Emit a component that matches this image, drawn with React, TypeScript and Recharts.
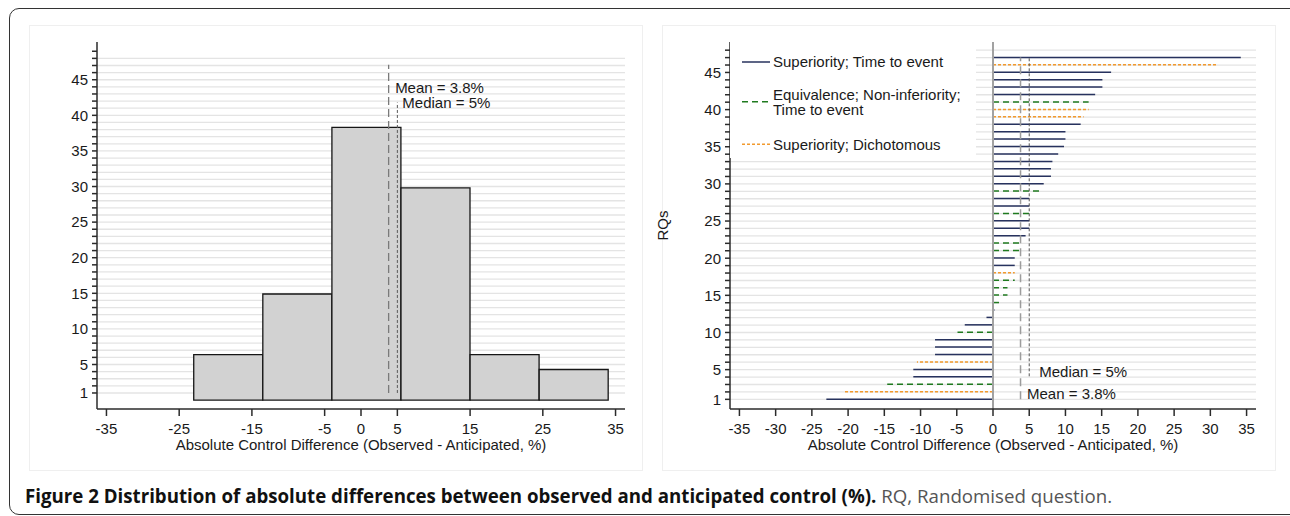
import React from "react";
import {
  BarChart,
  Bar,
  XAxis,
  YAxis,
  CartesianGrid,
  ReferenceLine,
  Legend,
} from "recharts";

// histogram: bin centres (bin width 9.5) and % of RQs
const binMids = [-18.25, -8.75, 0.75, 10.25, 19.75, 29.25];
const binPercent = [6.4, 14.9, 38.3, 29.8, 6.4, 4.3];

// per randomised question (RQ 1..47), sorted by difference
const rqDiff = [
  -23, -20.7, -14.6, -11, -11, -10.5, -8, -8, -8, -4.9, -3.9, -0.9, 0.2, 1, 2,
  2, 3, 3, 3, 3, 4, 4, 4.5, 5, 5, 5, 5, 5, 6.5, 7, 8, 8, 8.2, 9, 9.8, 10, 10,
  12.1, 12.5, 13.2, 13.2, 14.1, 15.1, 15.1, 16.3, 31, 34.2,
];
const rqDesign = [
  "sup", "dich", "eq", "sup", "sup", "dich", "sup", "sup", "sup", "eq", "sup",
  "sup", "sup", "eq", "eq", "eq", "eq", "dich", "sup", "sup", "eq", "eq", "sup",
  "sup", "sup", "eq", "sup", "sup", "eq", "sup", "sup", "sup", "sup", "sup",
  "sup", "sup", "sup", "sup", "dich", "dich", "eq", "sup", "sup", "sup", "sup",
  "dich", "sup",
];

const meanDiff = 3.8;
const medianDiff = 5;

const leftXTicks = [-35, -25, -15, -5, 0, 5, 15, 25, 35];
const rightXTicks = [-35, -30, -25, -20, -15, -10, -5, 0, 5, 10, 15, 20, 25, 30, 35];
const yLabelTicks = [1, 5, 10, 15, 20, 25, 30, 35, 40, 45];

const legendItems = [
  { key: "sup", lines: ["Superiority; Time to event"] },
  { key: "eq", lines: ["Equivalence; Non-inferiority;", "Time to event"] },
  { key: "dich", lines: ["Superiority; Dichotomous"] },
];

const histData = binMids.map((mid, i) => ({ mid, pct: binPercent[i] }));
const rqData = rqDiff.map((diff, i) => ({ rq: i + 1, diff, design: rqDesign[i] }));

const leftYTickMarks = Array.from({ length: 49 }, (_, i) => i + 1);
const rightYTickMarks = Array.from({ length: 48 }, (_, i) => i + 1);
const gridRows = Array.from({ length: 48 }, (_, i) => i + 1);

const FONT = "'Liberation Sans', Arial, Helvetica, sans-serif";
const INK = "#1a1a1a";
const AXIS = "#2b2b2b";

const designStyle: Record<string, { stroke: string; dash?: string }> = {
  sup: { stroke: "#27325e" },
  eq: { stroke: "#1f7a1f", dash: "6 4" },
  dich: { stroke: "#f29a2e", dash: "3 2" },
};

const yTickFmt = (v: number) => (yLabelTicks.includes(v) ? String(v) : "");

function RqSegment(props: any) {
  const { x, y, width, height, payload } = props;
  if (!isFinite(x) || !isFinite(width)) return null;
  const s = designStyle[payload.design];
  const cy = y + height / 2;
  return (
    <line
      x1={x}
      x2={x + width}
      y1={cy}
      y2={cy}
      stroke={s.stroke}
      strokeWidth={1.5}
      strokeDasharray={s.dash}
    />
  );
}

function StatLabel({ viewBox, text, dx, dy, fromBottom }: any) {
  if (!viewBox) return null;
  const base = fromBottom ? viewBox.y + viewBox.height : viewBox.y;
  return (
    <text x={viewBox.x + dx} y={base + dy} fill={INK} fontSize={15} fontFamily={FONT}>
      {text}
    </text>
  );
}

function LegendBox() {
  const rows = [20, 59.7, 102.3];
  return (
    <svg width={246} height={116} style={{ display: "block", background: "#fff" }}>
      {legendItems.map((it, i) => {
        const s = designStyle[it.key];
        const ly = rows[i];
        const firstY = it.lines.length > 1 ? ly - 7.5 : ly;
        return (
          <g key={it.key}>
            <line
              x1={12}
              x2={40}
              y1={ly}
              y2={ly}
              stroke={s.stroke}
              strokeWidth={1.5}
              strokeDasharray={s.dash}
            />
            {it.lines.map((t, j) => (
              <text
                key={j}
                x={43}
                y={firstY + 5.4 + j * 15.5}
                fill={INK}
                fontSize={15}
                fontFamily={FONT}
              >
                {t}
              </text>
            ))}
          </g>
        );
      })}
    </svg>
  );
}

const tickStyle = { fill: INK, fontSize: 15, fontFamily: FONT };
const xTitle = "Absolute Control Difference (Observed - Anticipated, %)";

function Histogram() {
  return (
    <BarChart
      width={612}
      height={445}
      data={histData}
      margin={{ top: 17, right: 17, bottom: 21, left: 7 }}
      barCategoryGap={0}
      barGap={0}
      style={{ fontFamily: FONT }}
    >
      <CartesianGrid
        vertical={false}
        horizontalValues={gridRows}
        stroke="#e4e4e4"
        strokeWidth={1.3}
      />
      <XAxis
        type="number"
        dataKey="mid"
        domain={[-36.3, 36.3]}
        ticks={leftXTicks}
        interval={0}
        allowDataOverflow
        height={40}
        tickSize={7}
        tickMargin={7}
        tick={tickStyle}
        stroke={AXIS}
        strokeWidth={1.5}
        label={{ value: xTitle, position: "insideBottom", offset: -0.5, fill: INK, fontSize: 15 }}
      />
      <YAxis
        type="number"
        domain={[-1.25, 50.3]}
        ticks={leftYTickMarks}
        interval={0}
        allowDataOverflow
        width={60}
        tickSize={5}
        tickMargin={4}
        tick={tickStyle}
        tickFormatter={yTickFmt}
        stroke={AXIS}
        strokeWidth={1.5}
      />
      <Bar
        dataKey="pct"
        fill="#d2d2d2"
        stroke="#161616"
        strokeWidth={1.3}
        isAnimationActive={false}
      />
      <ReferenceLine
        segment={[{ x: meanDiff, y: 1 }, { x: meanDiff, y: 47.1 }]}
        stroke="#7a7a7a"
        strokeWidth={1.3}
        strokeDasharray="8 4"
        label={<StatLabel text="Mean = 3.8%" dx={6.5} dy={27.8} />}
      />
      <ReferenceLine
        segment={[{ x: medianDiff, y: 1 }, { x: medianDiff, y: 41.8 }]}
        stroke="#5a5a5a"
        strokeWidth={1}
        strokeDasharray="3 2"
        label={<StatLabel text="Median = 5%" dx={5} dy={5} />}
      />
    </BarChart>
  );
}

function RqChart() {
  return (
    <BarChart
      layout="vertical"
      width={625}
      height={445}
      data={rqData}
      margin={{ top: 17, right: 19, bottom: 21, left: 20 }}
      barCategoryGap={0}
      barGap={0}
      style={{ fontFamily: FONT }}
    >
      <CartesianGrid
        vertical={false}
        horizontalValues={gridRows}
        stroke="#e4e4e4"
        strokeWidth={1.3}
      />
      <XAxis
        type="number"
        domain={[-36.3, 36.3]}
        ticks={rightXTicks}
        interval={0}
        allowDataOverflow
        height={40}
        tickSize={7}
        tickMargin={7}
        tick={tickStyle}
        stroke={AXIS}
        strokeWidth={1.5}
        label={{ value: xTitle, position: "insideBottom", offset: -0.5, fill: INK, fontSize: 15 }}
      />
      <YAxis
        type="number"
        dataKey="rq"
        reversed
        domain={[-0.3, 49.1]}
        ticks={rightYTickMarks}
        interval={0}
        allowDataOverflow
        width={60}
        tickSize={5}
        tickMargin={4}
        tick={tickStyle}
        tickFormatter={yTickFmt}
        stroke={AXIS}
        strokeWidth={1.5}
        label={{
          content: ({ viewBox }: any) => {
            const cx = viewBox.x - 2;
            const cy = viewBox.y + viewBox.height / 2;
            return (
              <text
                x={cx}
                y={cy}
                textAnchor="middle"
                transform={`rotate(-90 ${cx} ${cy})`}
                fill={INK}
                fontSize={15}
                fontFamily={FONT}
              >
                RQs
              </text>
            );
          },
        }}
      />
      <Legend
        layout="vertical"
        align="center"
        verticalAlign="middle"
        content={() => <LegendBox />}
        wrapperStyle={{ position: "absolute", left: 80, top: 17, width: 246, height: 116 }}
      />
      <ReferenceLine x={0} stroke="#a2a2a2" strokeWidth={2} />
      <Bar dataKey="diff" shape={RqSegment} isAnimationActive={false} />
      <ReferenceLine
        segment={[{ x: meanDiff, y: 1 }, { x: meanDiff, y: 47 }]}
        stroke="#9c9c9c"
        strokeWidth={1.5}
        strokeDasharray="8 5"
        label={<StatLabel text="Mean = 3.8%" dx={6.5} dy={-0.6} fromBottom />}
      />
      <ReferenceLine
        segment={[{ x: medianDiff, y: 4.1 }, { x: medianDiff, y: 47 }]}
        stroke="#555"
        strokeWidth={1}
        strokeDasharray="3 2"
        label={<StatLabel text="Median = 5%" dx={10} dy={0.4} fromBottom />}
      />
    </BarChart>
  );
}

export default function App() {
  return (
    <div
      style={{
        position: "fixed",
        left: 0,
        top: 0,
        width: 1290,
        height: 516,
        background: "#fff",
        overflow: "hidden",
      }}
    >
      <div
        style={{
          position: "absolute",
          left: 9,
          top: 8,
          width: 1300,
          height: 505,
          border: "1.5px solid #333",
          borderRadius: 10,
        }}
      />
      <div
        style={{
          position: "absolute",
          left: 29,
          top: 25,
          width: 612,
          height: 444,
          border: "1px solid #efefef",
        }}
      />
      <div
        style={{
          position: "absolute",
          left: 662,
          top: 25,
          width: 612,
          height: 444,
          border: "1px solid #efefef",
        }}
      />
      <div style={{ position: "absolute", left: 30, top: 25 }}>
        <Histogram />
      </div>
      <div style={{ position: "absolute", left: 650, top: 25 }}>
        <RqChart />
      </div>
      <div
        style={{
          position: "absolute",
          left: 25,
          top: 485.5,
          fontFamily: "'Open Sans', sans-serif",
          fontSize: 18.7,
          lineHeight: "20px",
          whiteSpace: "nowrap",
          color: "#111",
        }}
      >
        <b>Figure 2 Distribution of absolute differences between observed and anticipated control (%).</b>
        <span style={{ color: "#555" }}> RQ, Randomised question.</span>
      </div>
    </div>
  );
}
